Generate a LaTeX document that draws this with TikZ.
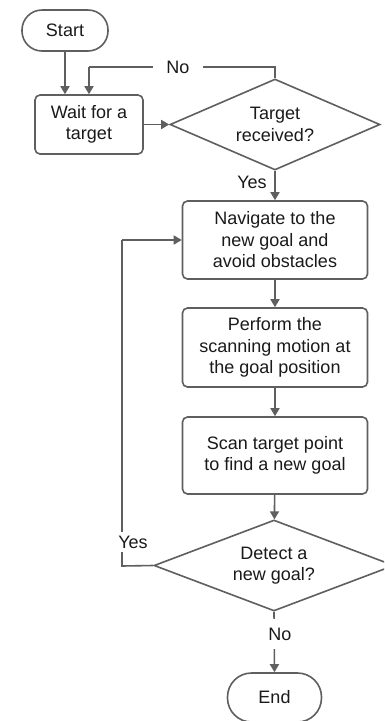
\documentclass[tikz,border=0pt]{standalone}
\usepackage{fontspec}
\setmainfont{Liberation Sans}
\usetikzlibrary{shapes.geometric,arrows.meta}
\definecolor{ln}{HTML}{5F5F5F}
\definecolor{tx}{HTML}{1A1A1A}
\begin{document}
\begin{tikzpicture}[x=1pt,y=-1pt,
  every node/.style={font=\fontsize{18}{21.5}\selectfont, text=tx},
  shp/.style={draw=ln, line width=1.6pt, align=center, inner sep=0pt},
  box/.style={shp, rectangle, rounded corners=5pt},
  term/.style={shp, rectangle},
  dec/.style={shp, diamond, aspect=2.3},
  arr/.style={draw=ln, line width=1.6pt, -{Triangle[length=8pt,width=9pt]}},
  lne/.style={draw=ln, line width=1.6pt},
  lbl/.style={fill=white, inner xsep=3pt, inner ysep=1pt}]
\clip (0,0) rectangle (384,721);
\fill[white] (0,0) rectangle (384,721);
\useasboundingbox (0,0) rectangle (384,721);

\node[term, rounded corners=20pt, minimum width=86pt, minimum height=41pt] (start) at (65,30.5) {Start};
\node[box, minimum width=108pt, minimum height=59pt] (wait) at (89,124.5) {Wait for a\\target};
\node[dec, minimum width=210pt, minimum height=91pt] (d1) at (275,124.5) {Target\\received?};
\node[box, minimum width=185pt, minimum height=78pt] (nav) at (275,240) {Navigate to the\\new goal and\\avoid obstacles};
\node[box, minimum width=185pt, minimum height=79pt] (perf) at (275,347.5) {Perform the\\scanning motion at\\the goal position};
\node[box, minimum width=185pt, minimum height=77pt] (scan) at (275,455.5) {Scan target point\\to find a new goal};
\node[dec, minimum width=240pt, minimum height=91pt] (d2) at (274,565.5) {Detect a\\new goal?};
\node[term, rounded corners=24pt, minimum width=94pt, minimum height=49pt] (end) at (274.5,697.5) {End};

\coordinate (nl) at (89,67);
\coordinate (yl) at (122,566);
\coordinate (yt) at (122,240);

\draw[arr] (start) -- (start |- wait.north);
\draw[lne] (d1.north) |- (nl);
\draw[arr] (nl) -- (wait.north);
\node[lbl, inner xsep=13pt] (no1) at (178,67) {No};
\draw[arr] (wait.east) -- (d1.west);
\draw[arr] (d1.south) -- (nav.north);
\node (yes1) at (252,182) {Yes};
\draw[arr] (nav) -- (perf);
\draw[arr] (perf) -- (scan);
\draw[arr] (scan) -- (d2);
\draw[lne] (d2.west) -- (yl) -- (yt);
\draw[arr] (yt) -- (nav.west);
\node[lbl, inner ysep=4pt] (yes2) at (133,542) {Yes};
\draw[arr] (d2.south) -- (end.north);
\node[lbl, inner ysep=9pt] (no2) at (280,634) {No};
\end{tikzpicture}
\end{document}
